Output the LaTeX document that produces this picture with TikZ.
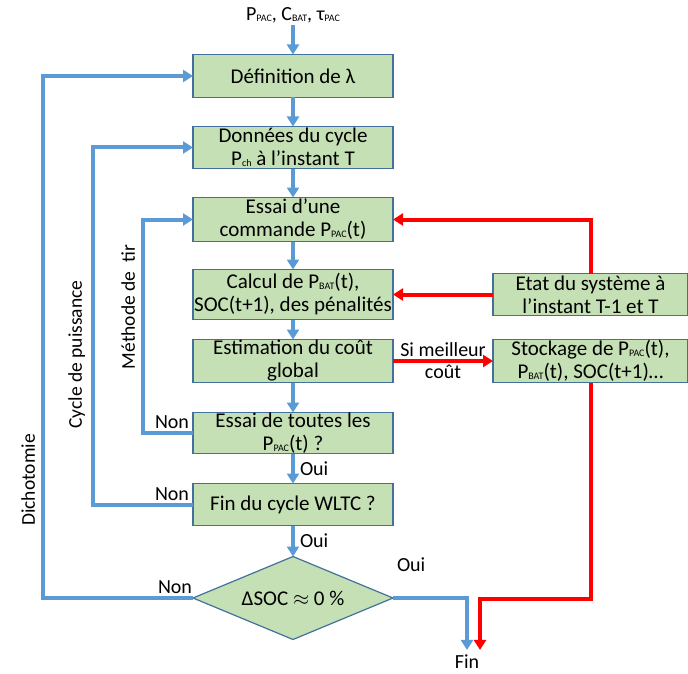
\documentclass[tikz,border=0pt]{standalone}
\usepackage{fontspec}
\setmainfont{Carlito}
\usepackage{tikz}
\usetikzlibrary{positioning, calc, arrows.meta, shapes.geometric}

\definecolor{boxfill}{HTML}{C5E0B4}
\definecolor{boxline}{HTML}{41719C}
\definecolor{loopblue}{HTML}{5B9BD5}
\definecolor{statered}{HTML}{FF0000}
\newcommand{\sbs}[1]{\raisebox{-1pt}{\fontsize{10}{10}\selectfont #1}}

\begin{document}
\begin{tikzpicture}[
    x=1pt, y=-1pt,
    >={Triangle[length=10pt, width=12pt]},
    node distance=29pt,
    stepbox/.style={
        draw=boxline, fill=boxfill, rectangle, align=center,
        minimum width=200pt, minimum height=43pt,
        inner sep=0pt, outer sep=0pt, line width=1.6pt,
        font=\fontsize{21}{23}\selectfont
    },
    test/.style={diamond, aspect=2.4, draw=boxline, fill=boxfill, line width=1.2pt,
                 minimum width=200pt, minimum height=83pt, inner sep=0pt, outer sep=0pt,
                 font=\fontsize{21}{23}\selectfont},
    flow/.style={->, line width=4pt, draw=loopblue},
    back/.style={->, line width=4pt, draw=statered},
    lbl/.style={font=\fontsize{20}{22}\selectfont, inner sep=2pt},
    side/.style={font=\fontsize{19.5}{21}\selectfont, rotate=90, anchor=south, inner sep=6pt},
]
\useasboundingbox (0,0) rectangle (688,674);

\node[lbl] (inp) at (293,15) {P\sbs{PAC}, C\sbs{BAT}, τ\sbs{PAC}};
\node[stepbox] (s1) at (293,76) {Définition de λ};
\node[stepbox, below=of s1, minimum height=42pt] (s2) {Données du cycle\\P\sbs{ch} à l’instant T};
\node[stepbox, below=of s2, minimum height=44pt] (s3) {Essai d’une\\commande P\sbs{PAC}(t)};
\node[stepbox, below=28pt of s3, minimum height=50pt] (s4) {Calcul de P\sbs{BAT}(t),\\SOC(t+1), des pénalités};
\node[stepbox, below=20pt of s4] (s5) {Estimation du coût\\global};
\node[stepbox, below=30pt of s5, minimum height=41pt] (s6) {Essai de toutes les\\P\sbs{PAC}(t) ?};
\node[stepbox, below=30pt of s6, minimum height=42pt] (s7) {Fin du cycle WLTC ?};
\node[test, below=31pt of s7] (dia) {ΔSOC $\approx$ 0 \%};

\node[stepbox, right=100pt of s4, minimum width=195pt, minimum height=42pt] (et) {Etat du système à\\l’instant T-1 et T};
\node[stepbox, right=100pt of s5, minimum width=195pt] (st) {Stockage de P\sbs{PAC}(t),\\P\sbs{BAT}(t), SOC(t+1)…};

\node[lbl, inner sep=1pt] (fin) at (467,662) {Fin};
\coordinate (finb) at ([yshift=4pt]fin.north);
\coordinate (finr) at ([xshift=13pt, yshift=4pt]fin.north);

% main column
\draw[flow] (inp) -- (s1);
\draw[flow] (s1) -- (s2);
\draw[flow] (s2) -- (s3);
\draw[flow] (s3) -- (s4);
\draw[flow] (s4) -- (s5);
\draw[flow] (s5) -- (s6);
\draw[flow] (s6) -- node[lbl, right, xshift=3pt] {Oui} (s7);
\draw[flow] (s7) -- node[lbl, right, xshift=3pt] {Oui} (dia);
\draw[flow] (dia.east) node[lbl, anchor=south west, yshift=22pt] {Oui} -| (finb);

% loops back
\draw[flow] (s6.west) -- node[lbl, above, pos=0.42] {Non} ++(-50,0) |- node[side, pos=0.295] {Méthode de\ \ tir} (s3.west);
\draw[flow] (s7.west) -- node[lbl, above, pos=0.21] {Non} ++(-100,0) |- node[side, pos=0.21] {Cycle de puissance} (s2.west);
\draw[flow] (dia.west) -- node[lbl, above, pos=0.12] {Non} ++(-150,0) |- node[side, pos=0.113] {Dichotomie} (s1.west);

% state and storage
\draw[back] (et.north) |- (s3.east);
\draw[back] (et.west) -- (et.west -| s4.east);
\draw[back] (s5.east) -- node[lbl, align=center] {Si meilleur\\coût} (s5.east -| st.west);
\draw[back] (st.south) |- ([yshift=-1pt]dia.east -| finr) -- (finr);

\end{tikzpicture}
\end{document}
